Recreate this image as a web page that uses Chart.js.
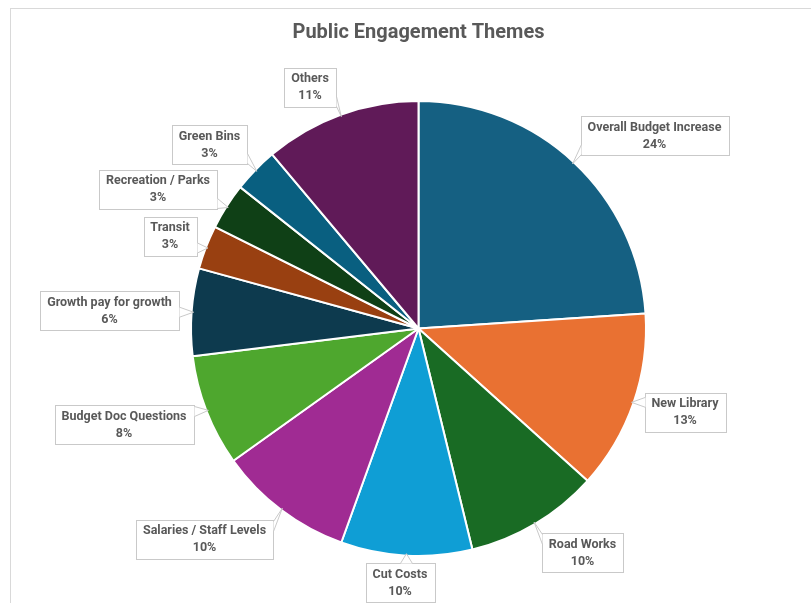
<!DOCTYPE html>
<html>
<head>
<meta charset="utf-8">
<script src="https://cdn.jsdelivr.net/npm/chart.js@4.4.1/dist/chart.umd.min.js"></script>
<style>
  html, body { margin: 0; padding: 0; background: #fff; overflow: hidden; }
  #frame { position: absolute; left: 10px; top: 8px; width: 900px; height: 700px; border: 1px solid #d9d9d9; }
  #chart { position: absolute; left: 0; top: 0; }
</style>
</head>
<body>
<div id="frame"></div>
<canvas id="chart" width="811" height="603"></canvas>
<script>
// themes and their share of comments (%)
const themes = [
    'Overall Budget Increase', 'New Library', 'Road Works', 'Cut Costs',
    'Salaries / Staff Levels', 'Budget Doc Questions', 'Growth pay for growth',
    'Transit', 'Recreation / Parks', 'Green Bins', 'Others'
];
const shares = [23.9, 12.7, 9.5, 9.3, 9.6, 7.9, 6.2, 3.1, 3.3, 3.2, 11.1];
const shareLabels = ['24%', '13%', '10%', '10%', '10%', '8%', '6%', '3%', '3%', '3%', '11%'];

const colours = [
    '#156082', '#E97132', '#196B24', '#0F9ED5', '#A02B93', '#4EA72E',
    '#0D3A4E', '#994011', '#0F4016', '#095F80', '#601A58'
];

// where each callout box sits (centre, px)
const calloutCentres = [
    [654.5, 135.5], [685, 412], [582.5, 552.5], [400, 582.5],
    [204.5, 539], [124, 424.5], [109.5, 310.5],
    [170, 236], [158, 189], [209.5, 144.5], [310, 87]
];

const FONT = 'Roboto, "Liberation Sans", sans-serif';

const callouts = {
    id: 'callouts',
    afterDatasetsDraw(chart) {
        const ctx = chart.ctx;
        const arcs = chart.getDatasetMeta(0).data;
        ctx.save();
        ctx.font = 'bold 12.5px ' + FONT;
        arcs.forEach((arc, i) => {
            const { x, y, startAngle, endAngle, outerRadius } = arc.getProps(['x', 'y', 'startAngle', 'endAngle', 'outerRadius'], true);
            const mid = (startAngle + endAngle) / 2;
            const tx = x + Math.cos(mid) * (outerRadius - 2);
            const ty = y + Math.sin(mid) * (outerRadius - 2);

            const w = Math.round(Math.max(ctx.measureText(themes[i]).width, ctx.measureText(shareLabels[i]).width) + 14);
            const h = 39;
            const [cx, cy] = calloutCentres[i];
            const x1 = Math.round(cx - w / 2) + 0.5, y1 = Math.round(cy - h / 2) + 0.5;
            const x2 = x1 + w, y2 = y1 + h;

            ctx.fillStyle = '#fff';
            ctx.strokeStyle = '#c9c9c9';
            ctx.lineWidth = 1;
            ctx.fillRect(x1, y1, w, h);
            ctx.strokeRect(x1, y1, w, h);

            // pointer base on the side facing the tip
            let b1, b2;
            const clamp = (v, a, b) => Math.min(Math.max(v, a), b);
            if (tx < x1) {
                const by = clamp(ty, y1 + 6, y2 - 6);
                b1 = [x1, by - 5]; b2 = [x1, by + 5];
            } else if (tx > x2) {
                const by = clamp(ty, y1 + 6, y2 - 6);
                b1 = [x2, by - 5]; b2 = [x2, by + 5];
            } else if (ty < y1) {
                const bx = clamp(tx, x1 + 8, x2 - 8);
                b1 = [bx - 6, y1]; b2 = [bx + 6, y1];
            } else {
                const bx = clamp(tx, x1 + 8, x2 - 8);
                b1 = [bx - 6, y2]; b2 = [bx + 6, y2];
            }
            ctx.beginPath();
            ctx.moveTo(b1[0], b1[1]);
            ctx.lineTo(tx, ty);
            ctx.lineTo(b2[0], b2[1]);
            ctx.closePath();
            ctx.fill();
            ctx.beginPath();
            ctx.moveTo(b1[0], b1[1]);
            ctx.lineTo(tx, ty);
            ctx.lineTo(b2[0], b2[1]);
            ctx.stroke();

            ctx.fillStyle = '#595959';
            ctx.textAlign = 'center';
            ctx.textBaseline = 'middle';
            ctx.fillText(themes[i], cx, cy - 8);
            ctx.fillText(shareLabels[i], cx, cy + 9);
        });
        ctx.restore();
    }
};

new Chart(document.getElementById('chart').getContext('2d'), {
    type: 'pie',
    data: {
        labels: themes,
        datasets: [{
            data: shares,
            backgroundColor: colours,
            borderColor: '#ffffff',
            borderWidth: 2
        }]
    },
    options: {
        responsive: false,
        animation: false,
        layout: { padding: { left: 190, right: 164, top: 0, bottom: 46 } },
        plugins: {
            legend: { display: false },
            tooltip: { enabled: false },
            title: {
                display: true,
                text: 'Public Engagement Themes',
                color: '#595959',
                font: { family: FONT, size: 20, weight: 'bold', lineHeight: 1.2 },
                padding: { top: 21, bottom: 55 }
            }
        }
    },
    plugins: [callouts]
});
</script>
</body>
</html>
